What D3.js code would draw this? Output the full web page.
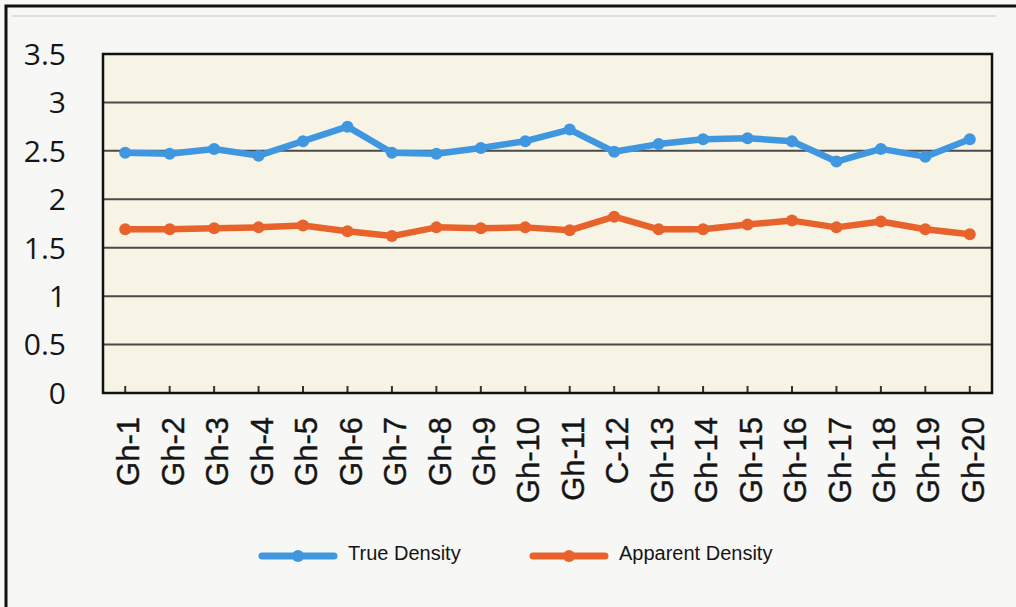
<!DOCTYPE html>
<html>
<head>
<meta charset="utf-8">
<script src="https://cdn.jsdelivr.net/npm/d3@7"></script>
<style>
  body { margin: 0; background: #f7f7f5; }
  svg { display: block; }
  .yLabel { font-family: "Open Sans", sans-serif; font-size: 30px; font-weight: 500; fill: #151515; }
  .xLabel { font-family: "Liberation Sans", Arial, sans-serif; font-size: 31px; fill: #151515; stroke: #151515; stroke-width: 0.4px; }
  .legendText { font-family: "Liberation Sans", Arial, sans-serif; font-size: 20px; fill: #151515; }
</style>
</head>
<body>
<div id="chartContainer"></div>
<script>
const WIDTH = 1016;
const HEIGHT = 607;
const PLOT = { left: 103, right: 992, top: 54, bottom: 393 };

// data
const samples = ["Gh-1", "Gh-2", "Gh-3", "Gh-4", "Gh-5", "Gh-6", "Gh-7", "Gh-8", "Gh-9", "Gh-10",
                 "Gh-11", "C-12", "Gh-13", "Gh-14", "Gh-15", "Gh-16", "Gh-17", "Gh-18", "Gh-19", "Gh-20"];
const trueDensity = [2.48, 2.47, 2.52, 2.45, 2.60, 2.75, 2.48, 2.47, 2.53, 2.60,
                     2.72, 2.49, 2.57, 2.62, 2.63, 2.60, 2.39, 2.52, 2.44, 2.62];
const apparentDensity = [1.69, 1.69, 1.70, 1.71, 1.73, 1.67, 1.62, 1.71, 1.70, 1.71,
                         1.68, 1.82, 1.69, 1.69, 1.74, 1.78, 1.71, 1.77, 1.69, 1.64];
const seriesNames = ["True Density", "Apparent Density"];
const seriesColors = ["#3f97e0", "#e8632b"];
const yTicks = [0, 0.5, 1, 1.5, 2, 2.5, 3, 3.5];

let svg = d3.select("#chartContainer").append("svg")
    .attr("width", WIDTH)
    .attr("height", HEIGHT);

// scanned page frame
svg.append("path")
    .attr("d", `M6,${HEIGHT} L6,6 L${WIDTH},6`)
    .attr("fill", "none")
    .attr("stroke", "#111")
    .attr("stroke-width", 3);
svg.append("line")
    .attr("x1", 12).attr("x2", WIDTH - 20)
    .attr("y1", 16).attr("y2", 16)
    .attr("stroke", "#c8c8c8")
    .attr("stroke-width", 1);

let x = d3.scalePoint().domain(samples).range([PLOT.left, PLOT.right]).padding(0.5);
let y = d3.scaleLinear().domain([0, 3.5]).range([PLOT.bottom, PLOT.top]);

// plot area
svg.append("rect")
    .attr("x", PLOT.left).attr("y", PLOT.top)
    .attr("width", PLOT.right - PLOT.left)
    .attr("height", PLOT.bottom - PLOT.top)
    .attr("fill", "#f7f4e5");

// gridlines
svg.append("g").selectAll("line")
    .data(yTicks.filter(t => t > 0 && t < 3.5))
    .join("line")
    .attr("x1", PLOT.left).attr("x2", PLOT.right)
    .attr("y1", d => y(d)).attr("y2", d => y(d))
    .attr("stroke", "#4a4a4a")
    .attr("stroke-width", 2);

// y labels
svg.append("g").selectAll("text")
    .data(yTicks)
    .join("text")
    .attr("class", "yLabel")
    .attr("x", 66)
    .attr("y", d => y(d))
    .attr("dy", "0.36em")
    .attr("text-anchor", "end")
    .text(d => d);

// x ticks, inside the plot
svg.append("g").selectAll("line")
    .data(samples)
    .join("line")
    .attr("x1", d => x(d)).attr("x2", d => x(d))
    .attr("y1", PLOT.bottom).attr("y2", PLOT.bottom - 7)
    .attr("stroke", "#333")
    .attr("stroke-width", 2);

// x labels, rotated
svg.append("g").selectAll("text")
    .data(samples)
    .join("text")
    .attr("class", "xLabel")
    .attr("transform", d => `translate(${x(d) + 3},${PLOT.bottom + 24}) rotate(-90)`)
    .attr("dy", "0.36em")
    .attr("text-anchor", "end")
    .text(d => d);

// plot border
svg.append("rect")
    .attr("x", PLOT.left).attr("y", PLOT.top)
    .attr("width", PLOT.right - PLOT.left)
    .attr("height", PLOT.bottom - PLOT.top)
    .attr("fill", "none")
    .attr("stroke", "#111")
    .attr("stroke-width", 2.5);

const drawSeries = (values, color) => {
    let pts = samples.map((s, i) => [x(s), y(values[i])]);
    svg.append("path")
        .datum(pts)
        .attr("d", d3.line())
        .attr("fill", "none")
        .attr("stroke", color)
        .attr("stroke-width", 6.5)
        .attr("stroke-linejoin", "round");
    svg.append("g").selectAll("circle")
        .data(pts)
        .join("circle")
        .attr("cx", d => d[0]).attr("cy", d => d[1])
        .attr("r", 6)
        .attr("fill", color);
}

drawSeries(trueDensity, seriesColors[0]);
drawSeries(apparentDensity, seriesColors[1]);

// legend
const legendX = [262, 533];
let legend = svg.append("g").selectAll("g")
    .data(seriesNames)
    .join("g")
    .attr("transform", (d, i) => `translate(${legendX[i]},556)`);
legend.append("line")
    .attr("x1", 0).attr("x2", 72)
    .attr("stroke", (d, i) => seriesColors[i])
    .attr("stroke-width", 7)
    .attr("stroke-linecap", "round");
legend.append("circle")
    .attr("cx", 36).attr("r", 6)
    .attr("fill", (d, i) => seriesColors[i]);
legend.append("text")
    .attr("class", "legendText")
    .attr("x", 86)
    .attr("dy", "0.2em")
    .text(d => d);
</script>
</body>
</html>
